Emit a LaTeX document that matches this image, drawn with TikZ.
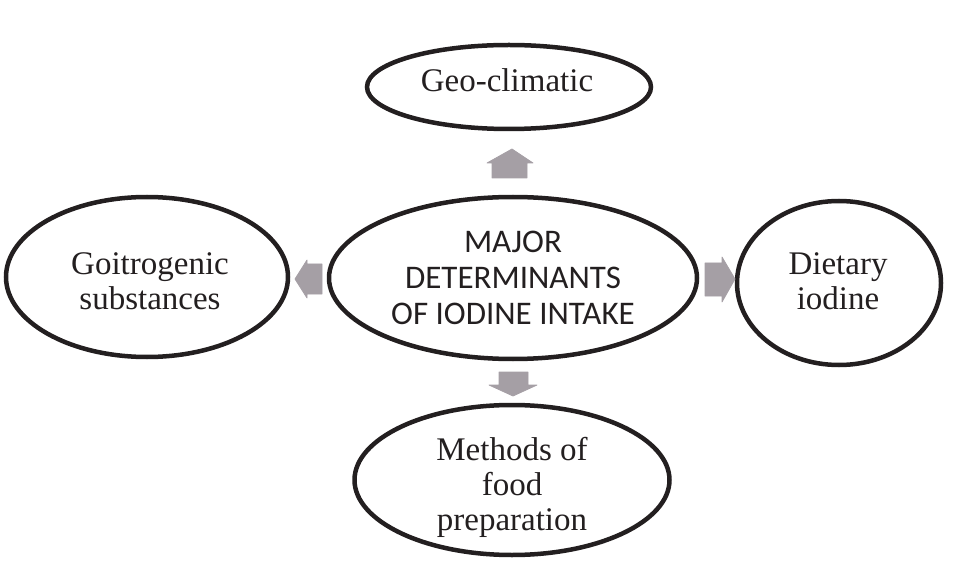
\documentclass[tikz,border=0pt]{standalone}
\usepackage{fontspec}
\setmainfont{Liberation Serif}
\newfontfamily\calfont{Carlito}
\usetikzlibrary{shapes.geometric}
\definecolor{inkc}{HTML}{231F20}
\definecolor{arrowc}{HTML}{A59FA5}
\tikzset{
  oval/.style={ellipse, draw=inkc, line width=4.5pt, inner sep=0pt, align=center,
    font=\fontsize{33}{35}\selectfont, text=inkc},
  lbl/.style={align=center, font=\fontsize{33}{35}\selectfont, text=inkc, inner sep=0pt},
  blockarrow/.style={fill=arrowc, draw=arrowc, line width=0.8pt, line join=round}
}
\begin{document}
\begin{tikzpicture}[x=1pt,y=-1pt]
\useasboundingbox (0,0) rectangle (974,561);
\node[oval, minimum width=284pt, minimum height=84pt] (geo) at (509,87) {};
\node[lbl] (geotxt) at (507,80) {Geo-climatic};
\node[oval, minimum width=368pt, minimum height=162pt, font=\calfont\fontsize{33}{36}\selectfont] (major) at (513,278) {MAJOR\\DETERMINANTS\\OF IODINE INTAKE};
\node[oval, minimum width=282pt, minimum height=160pt] (goit) at (147,277) {};
\node[lbl] (goittxt) at (150,281) {Goitrogenic\\substances};
\node[oval, minimum width=204pt, minimum height=164pt] (diet) at (839,283) {};
\node[lbl] (diettxt) at (838,281) {Dietary\\iodine};
\node[oval, minimum width=315pt, minimum height=150pt] (meth) at (512,480) {};
\node[lbl] (methtxt) at (512,487) {Methods of\\food\\preparation};
% block arrows
\draw[blockarrow] (492,178) -- (492,163) -- (487,163) -- (512,149) -- (533,163) -- (527,163) -- (527,178) -- cycle;
\draw[blockarrow] (322,264) -- (307,264) -- (307,260) -- (295,279) -- (307,298) -- (307,294) -- (322,294) -- cycle;
\draw[blockarrow] (705,263) -- (722,263) -- (722,257) -- (735,279) -- (722,302) -- (722,296) -- (705,296) -- cycle;
\draw[blockarrow] (499,372) -- (528,372) -- (528,385) -- (537,385) -- (513,396) -- (489,385) -- (499,385) -- cycle;
\end{tikzpicture}
\end{document}
